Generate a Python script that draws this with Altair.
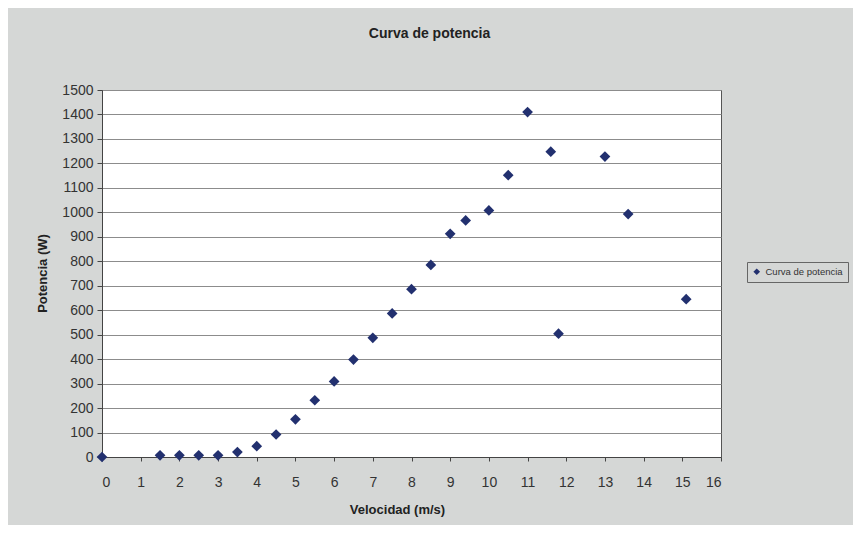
import altair as alt
import pandas as pd

velocidad = [0, 1.5, 2, 2.5, 3, 3.5, 4, 4.5, 5, 5.5, 6, 6.5, 7, 7.5, 8, 8.5, 9, 9.4, 10, 10.5, 11, 11.6, 11.8, 13, 13.6, 15.1]
potencia = [0, 7, 7, 7, 7, 20, 44, 92, 154, 232, 309, 398, 487, 587, 686, 785, 912, 967, 1008, 1152, 1410, 1248, 504, 1228, 993, 645]
serie = "Curva de potencia"
x_ticks = list(range(0, 17))
y_ticks = list(range(0, 1600, 100))

df = pd.DataFrame({"v": velocidad, "p": potencia, "serie": [serie] * len(velocidad)})

FONT = "Liberation Sans, Arial"
BG = "#d5d7d6"

chart = alt.Chart(df).mark_point(shape="diamond", filled=True, size=115, opacity=1).encode(
    x=alt.X("v:Q", scale=alt.Scale(domain=[0, 16], nice=False),
            axis=alt.Axis(values=x_ticks, title="Velocidad (m/s)", grid=False, format="d",
                          tickSize=4, labelPadding=14, labelFontSize=14,
                          titleX=295, titleY=52, titleBaseline="middle")),
    y=alt.Y("p:Q", scale=alt.Scale(domain=[0, 1500], nice=False),
            axis=alt.Axis(values=y_ticks, title="Potencia (W)", grid=True, format="d",
                          tickSize=5, labelPadding=4, labelFontSize=14,
                          titleX=-60, titleY=183, titleAngle=270,
                          titleAlign="center", titleBaseline="middle")),
    color=alt.Color("serie:N", scale=alt.Scale(domain=[serie], range=["#22306f"]),
                    legend=alt.Legend(title=None, orient="none", legendX=645, legendY=172,
                                      symbolType="diamond", symbolSize=45,
                                      labelFontSize=9.5, labelFont=FONT, labelColor="#333",
                                      padding=5, strokeColor="#666", fillColor=BG)),
).properties(
    width=619,
    height=367,
    title=alt.TitleParams(serie, fontSize=14, font=FONT, fontWeight="bold", color="#222",
                          dx=18, offset=42),
    autosize=alt.AutoSizeParams(type="none"),
    padding={"left": 94, "top": 82, "right": 132, "bottom": 68},
).configure(
    background=BG,
).configure_view(
    fill="white", stroke="#555", strokeWidth=1
).configure_axis(
    labelFont=FONT, titleFont=FONT, labelColor="#333", titleColor="#222",
    titleFontSize=13, titleFontWeight="bold",
    domainColor="#444", tickColor="#444", gridColor="#8c8c8c", gridOpacity=1
)

chart.save("out.html", embed_options={"renderer": "svg", "actions": False})
